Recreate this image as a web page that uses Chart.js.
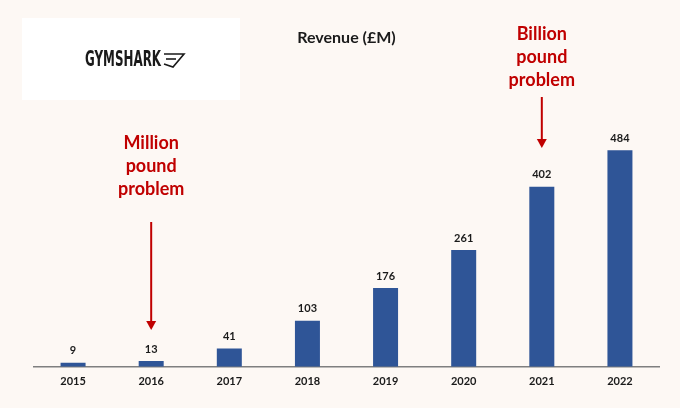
<!DOCTYPE html>
<html><head><meta charset="utf-8">
<script src="https://cdn.jsdelivr.net/npm/chart.js@4.4.0/dist/chart.umd.min.js"></script>
<style>html,body{margin:0;padding:0;background:#fdf8f4;}#wrap{width:680px;height:408px;}</style>
</head><body><div id="wrap"><canvas id="c" width="680" height="408"></canvas></div>
<script>
const years = ['2015','2016','2017','2018','2019','2020','2021','2022'];
const revenue = [9, 13, 41, 103, 176, 261, 402, 484];
const titleText = 'Revenue (£M)';
const noteMillion = ['Million', 'pound', 'problem'];
const noteBillion = ['Billion', 'pound', 'problem'];
const logoText = 'GYMSHARK';

const deco = {
  id: 'deco',
  beforeDraw(chart) {
    const ctx = chart.ctx;
    ctx.save();
    ctx.fillStyle = '#fdf8f4';
    ctx.fillRect(0, 0, chart.width, chart.height);
    // logo box
    ctx.fillStyle = '#ffffff';
    ctx.fillRect(22, 18, 218, 82);
    ctx.fillStyle = '#1a1a1a';
    ctx.font = 'bold 22px "Liberation Sans Narrow", "DejaVu Sans Condensed", "Roboto", sans-serif';
    ctx.textAlign = 'left';
    ctx.textBaseline = 'middle';
    ctx.fillText(logoText, 85, 60, 76);
    // shark mark
    ctx.strokeStyle = '#1a1a1a';
    ctx.lineWidth = 1.6;
    ctx.beginPath();
    ctx.moveTo(164, 54); ctx.lineTo(184, 54); ctx.lineTo(173, 67); ctx.lineTo(164, 64);
    ctx.stroke();
    ctx.beginPath();
    ctx.moveTo(166, 59); ctx.lineTo(176, 59);
    ctx.stroke();
    ctx.restore();
  },
  afterDatasetsDraw(chart) {
    const ctx = chart.ctx;
    const meta = chart.getDatasetMeta(0);
    ctx.save();
    ctx.fillStyle = '#1a1a1a';
    ctx.font = 'bold 11px Lato, "Open Sans", sans-serif';
    ctx.textAlign = 'center';
    ctx.textBaseline = 'middle';
    meta.data.forEach((bar, i) => {
      ctx.fillText(String(revenue[i]), bar.x, bar.y - 12);
    });
    const xs = chart.scales.x;
    const red = '#c00000';
    function note(idx, lines, textY, arrowTop, arrowBot) {
      const x = xs.getPixelForValue(idx);
      ctx.fillStyle = red;
      ctx.font = 'bold 18px Lato, "Open Sans", sans-serif';
      lines.forEach((l, k) => ctx.fillText(l, x, textY + k * 23));
      ctx.strokeStyle = red;
      ctx.lineWidth = 2;
      ctx.beginPath();
      ctx.moveTo(x, arrowTop); ctx.lineTo(x, arrowBot - 6);
      ctx.stroke();
      ctx.beginPath();
      ctx.moveTo(x - 5, arrowBot - 9); ctx.lineTo(x + 5, arrowBot - 9); ctx.lineTo(x, arrowBot);
      ctx.closePath(); ctx.fill();
    }
    note(1, noteMillion, 143, 222, 330);
    note(6, noteBillion, 34, 97, 148);
    ctx.restore();
  }
};

new Chart(document.getElementById('c'), {
  type: 'bar',
  data: {
    labels: years,
    datasets: [{
      data: revenue,
      backgroundColor: '#2f5597',
      borderWidth: 0,
      barPercentage: 0.32,
      categoryPercentage: 1.0
    }]
  },
  options: {
    responsive: false,
    animation: false,
    layout: { padding: { left: 34, right: 21, top: 0, bottom: 12 } },
    plugins: {
      legend: { display: false },
      tooltip: { enabled: false },
      title: {
        display: true,
        text: titleText,
        color: '#1a1a1a',
        font: { family: 'Lato, "Open Sans", sans-serif', size: 16, weight: 'bold' },
        padding: { top: 28, bottom: 51 }
      }
    },
    scales: {
      x: {
        grid: { display: false, drawTicks: false },
        border: { display: true, color: '#7f7f7f', width: 1.5 },
        ticks: { color: '#1a1a1a', padding: 8, font: { family: 'Lato, "Open Sans", sans-serif', size: 11, weight: 'bold' } }
      },
      y: {
        display: false,
        min: 0,
        max: 600
      }
    }
  },
  plugins: [deco]
});
</script>
</body></html>
